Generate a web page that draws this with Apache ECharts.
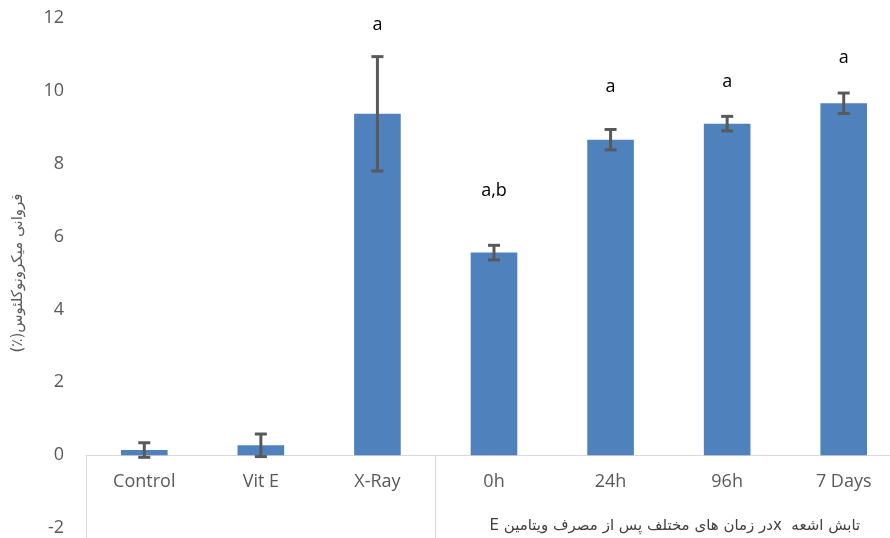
<!DOCTYPE html>
<html>
<head>
<meta charset="utf-8">
<script src="https://cdn.jsdelivr.net/npm/echarts@6/dist/echarts.min.js"></script>
<style>
html,body{margin:0;padding:0;background:#fff;}
#chart{width:890px;height:538px;}
</style>
</head>
<body>
<div id="chart"></div>
<script>
const categories = ['Control', 'Vit E', 'X-Ray', '0h', '24h', '96h', '7 Days'];
const values = [0.14, 0.27, 9.37, 5.56, 8.66, 9.10, 9.66];
const errors = [0.20, 0.31, 1.57, 0.20, 0.28, 0.20, 0.28];
const letters = ['', '', 'a', 'a,b', 'a', 'a', 'a'];
const letterHeights = [null, null, 11.8, 7.25, 10.1, 10.25, 10.9];
const yTicks = { min: -2, max: 12, interval: 2 };
const groupLabel = 'تابش اشعه  xدر زمان های مختلف پس از مصرف ویتامین E';
const yName = 'فروانی میکرونوکلئوس(٪)';

const RLE = '\u202B', PDF = '\u202C', RLM = '\u200F';

const chart = echarts.init(document.getElementById('chart'), null, { renderer: 'canvas' });

const errData = categories.map((c, i) => [i, values[i] - errors[i], values[i] + errors[i]]);
const letterData = categories.map((c, i) => [i, letterHeights[i], letters[i]]).filter(d => d[2]);

const option = {
  animation: false,
  backgroundColor: '#ffffff',
  grid: { left: 86, top: 18, width: 816, height: 510, containLabel: false, outerBoundsMode: 'none' },
  xAxis: {
    type: 'category',
    data: categories,
    boundaryGap: true,
    offset: 0,
    axisLine: { show: true, onZero: false, lineStyle: { color: '#d9d9d9', width: 1 } },
    axisTick: {
      show: true,
      interval: function (index) { return index === 0 || index === 3; },
      length: 90,
      lineStyle: { color: '#d9d9d9', width: 1 }
    },
    axisLabel: { interval: 0, color: '#595959', fontSize: 18, margin: 18, fontFamily: '"Open Sans", Arial, sans-serif' },
    splitLine: { show: false }
  },
  yAxis: {
    type: 'value',
    min: yTicks.min,
    max: yTicks.max,
    interval: yTicks.interval,
    axisLine: { show: false },
    axisTick: { show: false },
    splitLine: { show: false },
    axisLabel: { color: '#595959', fontSize: 18, margin: 22, fontFamily: '"Open Sans", Arial, sans-serif' },
    name: RLE + yName + RLM + PDF,
    nameLocation: 'middle',
    nameRotate: 90,
    nameGap: 60,
    nameTextStyle: { color: '#595959', fontSize: 15, fontFamily: '"DejaVu Sans", sans-serif' }
  },
  series: [
    {
      type: 'bar',
      data: values,
      barWidth: '40%',
      itemStyle: { color: '#4f81bd' },
      z: 2
    },
    {
      type: 'custom',
      data: errData,
      z: 5,
      renderItem: function (params, api) {
        const x = api.value(0);
        const lo = api.coord([x, api.value(1)]);
        const hi = api.coord([x, api.value(2)]);
        const half = 6;
        const style = { stroke: '#595959', lineWidth: 3 };
        return {
          type: 'group',
          children: [
            { type: 'line', shape: { x1: hi[0], y1: hi[1], x2: lo[0], y2: lo[1] }, style: style },
            { type: 'line', shape: { x1: hi[0] - half, y1: hi[1], x2: hi[0] + half, y2: hi[1] }, style: style },
            { type: 'line', shape: { x1: lo[0] - half, y1: lo[1], x2: lo[0] + half, y2: lo[1] }, style: style }
          ]
        };
      }
    },
    {
      type: 'custom',
      data: letterData,
      z: 6,
      renderItem: function (params, api) {
        const p = api.coord([api.value(0), api.value(1)]);
        return {
          type: 'text',
          x: p[0], y: p[1],
          style: {
            text: letterData[params.dataIndex][2],
            fill: '#000000',
            font: '18px "Open Sans", Arial, sans-serif',
            align: 'center',
            verticalAlign: 'middle'
          }
        };
      }
    }
  ]
};
chart.setOption(option);

const y0 = chart.convertToPixel({ yAxisIndex: 0 }, 0);
const yBottom = chart.convertToPixel({ yAxisIndex: 0 }, yTicks.min);
const pA = chart.convertToPixel({ xAxisIndex: 0 }, categories[4]);
const pB = chart.convertToPixel({ xAxisIndex: 0 }, categories[5]);
chart.setOption({
  xAxis: { offset: y0 - yBottom },
  graphic: [{
    type: 'text',
    x: (pA + pB) / 2 + 6,
    y: y0 + 71,
    style: {
      text: RLE + groupLabel + PDF,
      fill: '#404040',
      font: '15px "DejaVu Sans", sans-serif',
      align: 'center',
      verticalAlign: 'middle'
    }
  }]
});
</script>
</body>
</html>
